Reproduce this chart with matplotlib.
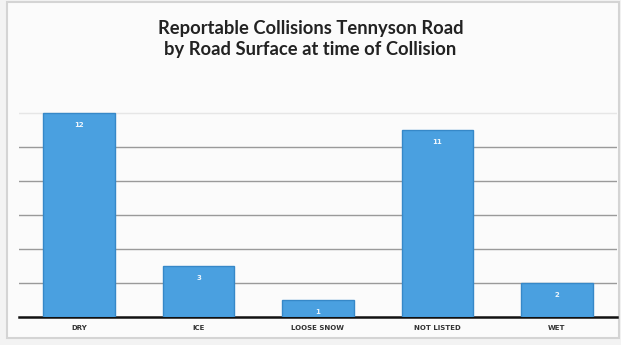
import matplotlib.pyplot as plt
from matplotlib.patches import Rectangle

categories = ["DRY", "ICE", "LOOSE SNOW", "NOT LISTED", "WET"]
collisions = [12, 3, 1, 11, 2]

BAR = "#4aa0e0"
EDGE = "#3688c8"

fig = plt.figure(figsize=(6.21, 3.45), dpi=100, facecolor="#f3f3f3")
# light frame of the photographed slide
fig.patches.append(Rectangle((0.012, 0.02), 0.985, 0.975, transform=fig.transFigure,
                             facecolor="#fbfbfb", edgecolor="#d4d4d4", linewidth=1.5,
                             zorder=-5))

ax = fig.add_axes([0.031, 0.082, 0.962, 0.69])
ax.set_facecolor("none")
ax.set_zorder(2)

x = range(len(categories))
bars = ax.bar(x, collisions, width=0.6, color=BAR, edgecolor=EDGE, linewidth=1, zorder=3)
for b, v in zip(bars, collisions):
    ax.text(b.get_x() + b.get_width() / 2, v - 0.7, str(v), ha="center", va="center",
            color="#eef6fd", fontsize=5, fontweight="bold", zorder=4)

ax.set_xlim(-0.5, len(categories) - 0.5)
ax.set_ylim(0, 14)
for level in [2, 4, 6, 8, 10]:
    ax.axhline(level, color="#9a9a9a", linewidth=1, zorder=0)
ax.axhline(12, color="#e6e6e6", linewidth=1, zorder=0)
ax.set_yticks([])
ax.tick_params(axis="x", length=0, pad=6)
ax.set_xticks(list(x))
ax.set_xticklabels(categories, fontsize=5, color="#333333", fontweight="bold")
for s in ["top", "right", "left"]:
    ax.spines[s].set_visible(False)
ax.spines["bottom"].set_color("#111111")
ax.spines["bottom"].set_linewidth(1.8)

fig.text(0.5, 0.887, "Reportable Collisions Tennyson Road\nby Road Surface at time of Collision",
         ha="center", va="center", fontsize=13.2, fontweight="bold", color="#222222",
         family="Lato", linespacing=1.3)

fig.savefig("out.png", dpi=100, facecolor=fig.get_facecolor())
